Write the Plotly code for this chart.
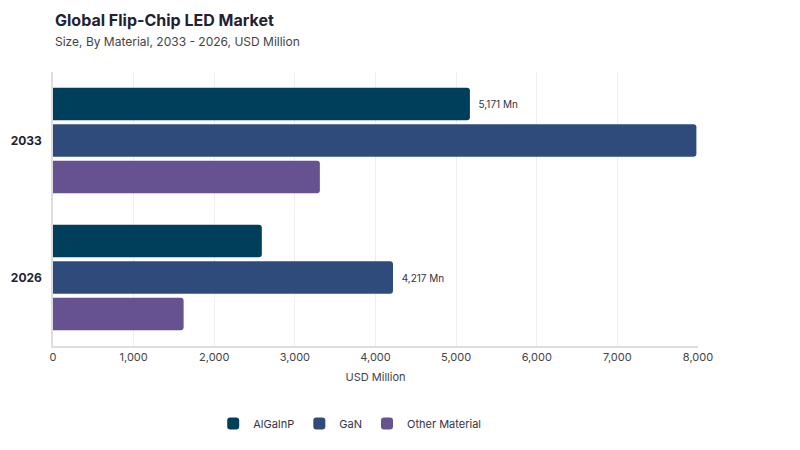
import plotly.graph_objects as go

years = ["2033", "2026"]
materials = ["AlGaInP", "GaN", "Other Material"]
alganinp = [5171, 2590]
gan = [7980, 4217]
other = [3310, 1620]
labels_alganinp = ["  5,171 Mn", ""]
labels_gan = ["", "  4,217 Mn"]
labels_other = ["", ""]
colors = ["#003f5c", "#2f4b7c", "#665191"]

series = [alganinp, gan, other]
labels = [labels_alganinp, labels_gan, labels_other]

fig = go.Figure()
for name, vals, txt, col in zip(materials, series, labels, colors):
    fig.add_trace(go.Bar(
        y=years, x=vals, name=name, orientation="h",
        marker=dict(color=col, line=dict(width=0)),
        text=txt, textposition="outside", cliponaxis=False,
        textfont=dict(size=10, color="#333344", family="Inter"),
        hoverinfo="x+name",
    ))

fig.add_annotation(
    text="<b>Global Flip-Chip LED Market</b>", xref="paper", yref="paper",
    x=0, y=1.188, xanchor="left", yanchor="middle", showarrow=False,
    font=dict(size=16, color="#222233", family="Inter"),
)
fig.add_annotation(
    text="Size, By Material, 2033 - 2026, USD Million", xref="paper", yref="paper",
    x=0, y=1.112, xanchor="left", yanchor="middle", showarrow=False,
    font=dict(size=12, color="#444444", family="Inter"),
)

fig.update_layout(
    width=800, height=450,
    margin=dict(l=53, r=102, t=72, b=102),
    paper_bgcolor="white", plot_bgcolor="white",
    barmode="group", bargap=0.2, bargroupgap=0.11, barcornerradius=3,
    font=dict(family="Inter", color="#333344"),
    xaxis=dict(
        range=[0, 8000], tickvals=[0, 1000, 2000, 3000, 4000, 5000, 6000, 7000, 8000],
        tickformat=",", showgrid=True, gridcolor="#eeeeee", gridwidth=1,
        showline=True, linecolor="#dddddd", linewidth=2, zeroline=False,
        tickfont=dict(size=11, color="#444444"),
        title=dict(text="USD Million", font=dict(size=11, color="#444444"), standoff=10),
        ticks="", ticklen=0,
    ),
    yaxis=dict(
        autorange="reversed", showline=True, linecolor="#dddddd", linewidth=2,
        tickfont=dict(size=12, color="#222233", family="Inter"),
        showgrid=False, type="category",
    ),
    legend=dict(
        orientation="h", x=0.46, xanchor="center", y=-0.23, yanchor="top",
        font=dict(size=11, color="#333344"), itemwidth=30,
    ),
)
fig.update_yaxes(tickprefix="<b>", ticksuffix="</b>  ")
fig.write_html("out.html")
